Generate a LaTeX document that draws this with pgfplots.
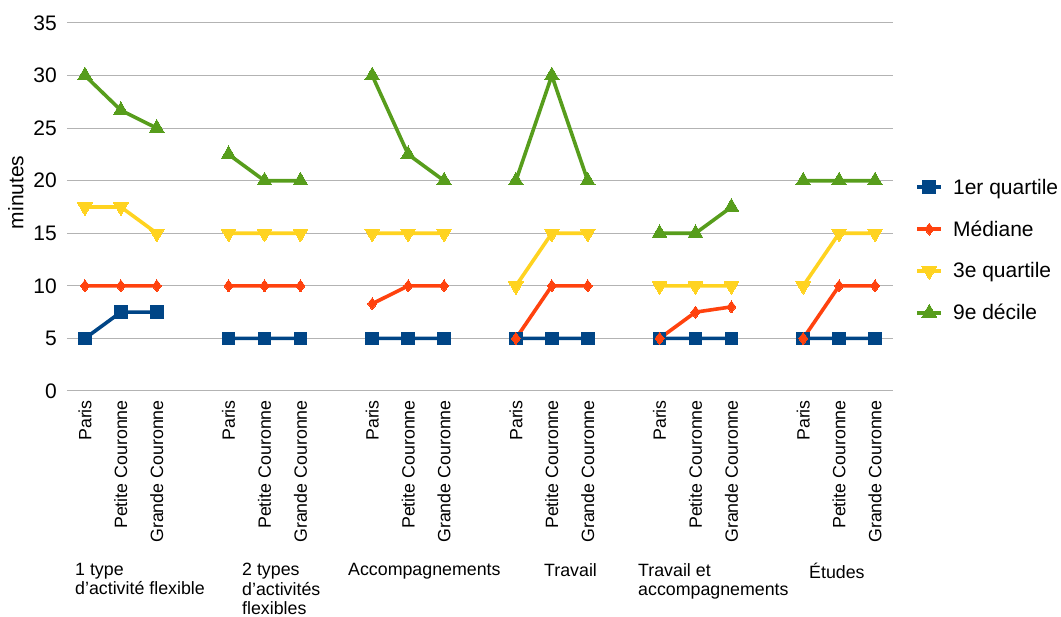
\documentclass[border=0pt]{standalone}
\usepackage{pgfplots}
\pgfplotsset{compat=1.18}
\usepackage{fontspec}
\setmainfont{Liberation Sans}
\definecolor{cQone}{HTML}{004586}
\definecolor{cMed}{HTML}{FF420E}
\definecolor{cQthree}{HTML}{FFD320}
\definecolor{cDnine}{HTML}{579D1C}
\definecolor{cGrid}{HTML}{B3B3B3}
\newcommand{\bigf}{\fontsize{21}{25}\selectfont}
\newcommand{\smf}{\fontsize{17.8}{19.5}\selectfont}
\begin{document}
\begin{tikzpicture}
\useasboundingbox (-67pt,-226pt) rectangle (994pt,391pt);
\begin{axis}[
  at={(0pt,0pt)}, anchor=south west,
  scale only axis, width=826pt, height=368pt,
  xmin=-0.5, xmax=22.5, ymin=0, ymax=35,
  ytick={0,5,...,35},
  xtick={0,1,2,4,5,6,8,9,10,12,13,14,16,17,18,20,21,22},
  xticklabels={Paris,Petite Couronne,Grande Couronne,Paris,Petite Couronne,Grande Couronne,Paris,Petite Couronne,Grande Couronne,Paris,Petite Couronne,Grande Couronne,Paris,Petite Couronne,Grande Couronne,Paris,Petite Couronne,Grande Couronne},
  xticklabel style={rotate=90, anchor=east, inner sep=0pt, font=\smf},
  xticklabel shift=9pt,
  yticklabel style={inner sep=0pt, font=\bigf},
  yticklabel shift=10pt,
  /pgf/number format/assume math mode=true,
  major tick length=0pt,
  axis line style={draw=none},
  ymajorgrids, grid style={cGrid, line width=1pt},
  ylabel={minutes}, ylabel style={font=\bigf, at={(axis description cs:-0.062,0.54)}, anchor=center},
  unbounded coords=jump,
  every axis plot/.append style={line width=3.6pt},
  legend style={draw=none, fill=none, font=\bigf, at={(1.027,0.383)}, anchor=west, row sep=21pt, inner sep=0pt,
    /tikz/every odd column/.append style={column sep=8pt}},
  legend cell align=left,
  legend image code/.code={\draw[mark repeat=2,mark phase=2] plot coordinates {(0pt,0pt)(12pt,0pt)(24pt,0pt)};},
]
\addplot[color=cQone, mark=square*, mark size=6.3pt, mark options={line width=0pt}] coordinates {
 (0,5)(1,7.5)(2,7.5)(3,nan)(4,5)(5,5)(6,5)(7,nan)(8,5)(9,5)(10,5)(11,nan)(12,5)(13,5)(14,5)(15,nan)(16,5)(17,5)(18,5)(19,nan)(20,5)(21,5)(22,5)};
\addlegendentry{1er quartile}
\addplot[color=cMed, mark=diamond*, mark size=6pt, mark options={line width=0pt}] coordinates {
 (0,10)(1,10)(2,10)(3,nan)(4,10)(5,10)(6,10)(7,nan)(8,8.3)(9,10)(10,10)(11,nan)(12,5)(13,10)(14,10)(15,nan)(16,5)(17,7.5)(18,8)(19,nan)(20,5)(21,10)(22,10)};
\addlegendentry{Médiane}
\addplot[color=cQthree, mark=triangle*, mark size=8.5pt, mark options={rotate=180, line width=0pt}] coordinates {
 (0,17.5)(1,17.5)(2,15)(3,nan)(4,15)(5,15)(6,15)(7,nan)(8,15)(9,15)(10,15)(11,nan)(12,10)(13,15)(14,15)(15,nan)(16,10)(17,10)(18,10)(19,nan)(20,10)(21,15)(22,15)};
\addlegendentry{3e quartile}
\addplot[color=cDnine, mark=triangle*, mark size=8.5pt, mark options={line width=0pt}] coordinates {
 (0,30)(1,26.7)(2,25)(3,nan)(4,22.5)(5,20)(6,20)(7,nan)(8,30)(9,22.5)(10,20)(11,nan)(12,20)(13,30)(14,20)(15,nan)(16,15)(17,15)(18,17.5)(19,nan)(20,20)(21,20)(22,20)};
\addlegendentry{9e décile}
\end{axis}
\begin{scope}[every node/.style={anchor=north west, align=left, font=\smf, inner sep=0pt}]
\node at (8pt,-172pt) {1 type\\d’activité flexible};
\node at (175pt,-172pt) {2 types\\d’activités\\flexibles};
\node at (281pt,-172pt) {Accompagnements};
\node at (477pt,-172pt) {Travail};
\node at (571pt,-172pt) {Travail et\\accompagnements};
\node at (742pt,-172pt) {Études};
\end{scope}
\end{tikzpicture}
\end{document}
